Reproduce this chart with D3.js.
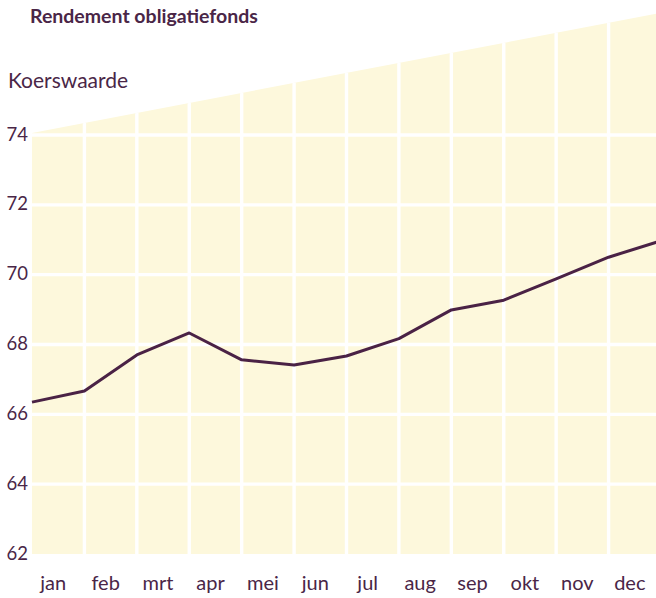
<!DOCTYPE html>
<html lang="nl">
<head>
    <meta charset="UTF-8">
    <title>Rendement obligatiefonds</title>
    <script src="https://cdnjs.cloudflare.com/ajax/libs/d3/7.8.5/d3.min.js"></script>
    <style>
        body {
            margin: 0;
            background: #fff;
            font-family: Lato, "Open Sans", sans-serif;
        }
        .title {
            font-size: 19.5px;
            font-weight: bold;
            fill: #4a2647;
        }
        .unit {
            font-size: 21px;
            fill: #4a2647;
        }
        .tick-label {
            font-size: 18.5px;
            fill: #4a2647;
        }
        .month-label {
            font-size: 20px;
            fill: #4a2647;
        }
        .grid line {
            stroke: #fff;
            stroke-width: 3.4;
        }
        .line {
            fill: none;
            stroke: #4a2245;
            stroke-width: 3;
            stroke-linejoin: round;
        }
    </style>
</head>
<body>
    <div id="chart"></div>

    <script>
        // Data
        const months = ["jan", "feb", "mrt", "apr", "mei", "jun", "jul", "aug", "sep", "okt", "nov", "dec"];
        // koerswaarde at each month boundary (start of jan .. end of dec)
        const koers = [66.35, 66.67, 67.7, 68.33, 67.56, 67.41, 67.67, 68.17, 68.99, 69.27, 69.88, 70.5, 70.97];
        const yTicks = [62, 64, 66, 68, 70, 72, 74];
        // sloping top edge of the background, in axis units at start and end
        const roof = [74.06, 77.5];

        const width = 656, height = 598;
        const plot = {left: 32, right: 661, top: 135, bottom: 554};

        const svg = d3.select("#chart")
            .append("svg")
            .attr("width", width)
            .attr("height", height);

        const x = d3.scaleLinear()
            .domain([0, months.length])
            .range([plot.left, plot.right]);

        const xBand = d3.scaleBand()
            .domain(months)
            .range([plot.left, plot.right]);

        const y = d3.scaleLinear()
            .domain([62, 74])
            .range([plot.bottom, plot.top]);

        // Background shape with sloped top
        const bgPoints = [
            [x(0), y(62)],
            [x(0), y(roof[0])],
            [x(months.length), y(roof[1])],
            [x(months.length), y(62)]
        ];

        svg.append("clipPath")
            .attr("id", "bg-clip")
            .append("polygon")
            .attr("points", bgPoints.map(p => p.join(",")).join(" "));

        svg.append("polygon")
            .attr("points", bgPoints.map(p => p.join(",")).join(" "))
            .attr("fill", "#fdf8dc");

        // White grid
        const grid = svg.append("g")
            .attr("class", "grid")
            .attr("clip-path", "url(#bg-clip)");

        grid.selectAll(".v")
            .data(d3.range(1, months.length))
            .join("line")
            .attr("x1", d => x(d))
            .attr("x2", d => x(d))
            .attr("y1", y(roof[1]))
            .attr("y2", y(62));

        grid.selectAll(".h")
            .data(yTicks.filter(d => d > 62))
            .join("line")
            .attr("x1", x(0))
            .attr("x2", x(months.length))
            .attr("y1", d => y(d))
            .attr("y2", d => y(d));

        // Y tick labels
        svg.append("g")
            .selectAll("text")
            .data(yTicks)
            .join("text")
            .attr("class", "tick-label")
            .attr("x", 28)
            .attr("y", d => y(d))
            .attr("dy", "0.3em")
            .style("text-anchor", "end")
            .text(d => d);

        // Month labels
        svg.append("g")
            .selectAll("text")
            .data(months)
            .join("text")
            .attr("class", "month-label")
            .attr("x", d => xBand(d) + xBand.bandwidth() / 2 - 5)
            .attr("y", 590)
            .style("text-anchor", "middle")
            .text(d => d);

        // Line
        const line = d3.line()
            .x((d, i) => x(i))
            .y(d => y(d));

        svg.append("path")
            .datum(koers)
            .attr("class", "line")
            .attr("d", line);

        // Titles
        svg.append("text")
            .attr("class", "title")
            .attr("x", 30)
            .attr("y", 23)
            .text("Rendement obligatiefonds");

        svg.append("text")
            .attr("class", "unit")
            .attr("x", 8)
            .attr("y", 88)
            .text("Koerswaarde");
    </script>
</body>
</html>
